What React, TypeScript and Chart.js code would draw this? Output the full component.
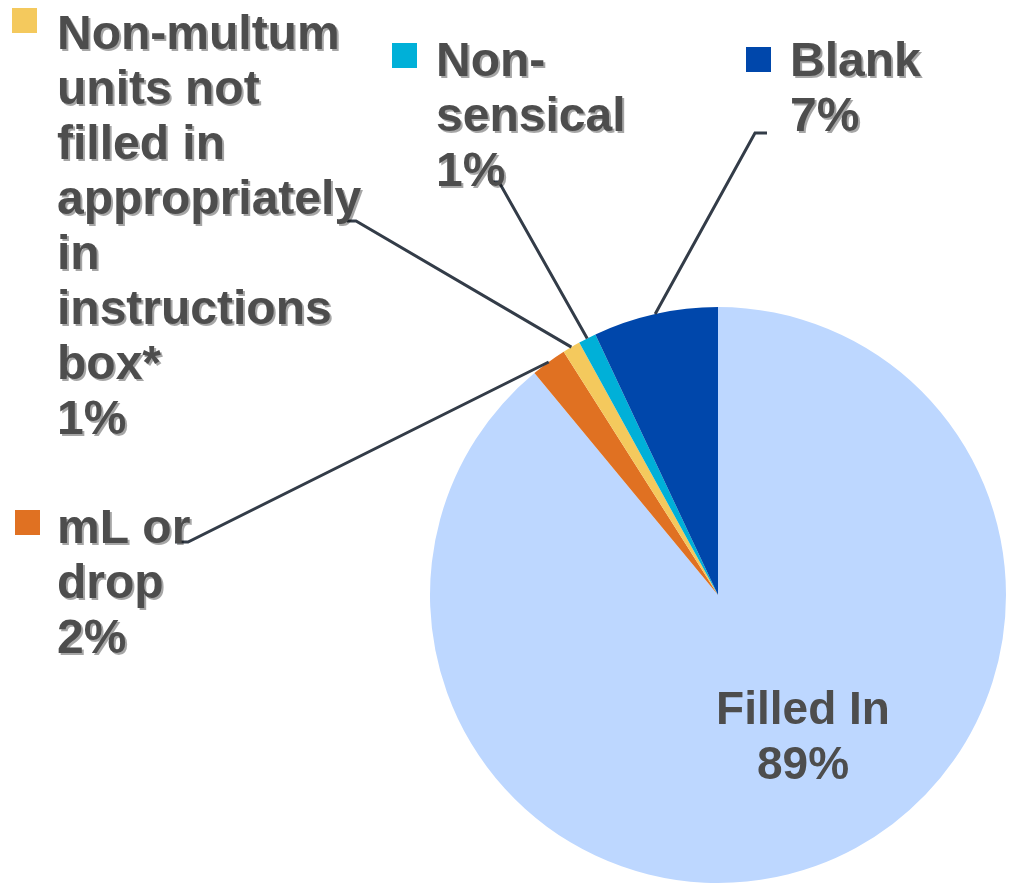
import React, { useEffect, useRef } from "react";
import { Chart, registerables } from "chart.js";

Chart.register(...registerables);

const categories = [
  "Filled In",
  "mL or drop",
  "Non-multum units not filled in appropriately in instructions box*",
  "Non-sensical",
  "Blank",
];
const values = [89, 2, 1, 1, 7];
const colors = ["#BDD7FF", "#E07122", "#F4C95D", "#00B0D8", "#0047AB"];
const labelLines = [
  ["Filled In"],
  ["mL or", "drop"],
  ["Non-multum", "units not", "filled in", "appropriately", "in", "instructions", "box*"],
  ["Non-", "sensical"],
  ["Blank"],
];

// label layout (positions only)
const labelLayout = [
  { inside: true, x: 803, y: 724 },
  { x: 57, y: 543, sq: [15, 510], stub: [175, 542, 188, 542] },
  { x: 57, y: 49, sq: [12, 8], stub: [347, 221, 356, 221] },
  { x: 436, y: 76, sq: [392, 43], stub: [490, 182, 499, 182] },
  { x: 790, y: 76, sq: [746, 47], stub: [767, 133, 755, 133] },
];

const FONT = '"Liberation Sans", Arial, sans-serif';
const LINE_H = 55;

const labelPlugin = {
  id: "pieLabels",
  afterDraw(chart: any) {
    const ctx = chart.ctx;
    const meta = chart.getDatasetMeta(0);
    const total = values.reduce((a, b) => a + b, 0);
    ctx.save();
    meta.data.forEach((arc: any, i: number) => {
      const lay = labelLayout[i];
      const lines = [...labelLines[i], Math.round((values[i] / total) * 100) + "%"];
      if (lay.inside) {
        ctx.font = `bold 46px ${FONT}`;
        ctx.fillStyle = "#4D4D4D";
        ctx.textAlign = "center";
        ctx.textBaseline = "alphabetic";
        lines.forEach((l, k) => ctx.fillText(l, lay.x, lay.y + k * LINE_H));
        return;
      }
      // leader line
      const mid = (arc.startAngle + arc.endAngle) / 2;
      const ex = arc.x + Math.cos(mid) * arc.outerRadius;
      const ey = arc.y + Math.sin(mid) * arc.outerRadius;
      const s = lay.stub!;
      ctx.strokeStyle = "#333C48";
      ctx.lineWidth = 3;
      ctx.beginPath();
      ctx.moveTo(s[0], s[1]);
      ctx.lineTo(s[2], s[3]);
      ctx.lineTo(ex, ey);
      ctx.stroke();
      // square marker
      ctx.fillStyle = colors[i];
      ctx.fillRect(lay.sq![0], lay.sq![1], 25, 25);
      // text with shadow
      ctx.font = `bold 48px ${FONT}`;
      ctx.textAlign = "left";
      ctx.textBaseline = "alphabetic";
      ctx.shadowColor = "rgba(0,0,0,0.35)";
      ctx.shadowOffsetX = 2;
      ctx.shadowOffsetY = 2;
      ctx.shadowBlur = 0;
      ctx.fillStyle = "#4D4D4D";
      lines.forEach((l, k) => ctx.fillText(l, lay.x, lay.y + k * LINE_H));
      ctx.shadowColor = "transparent";
    });
    ctx.restore();
  },
};

export default function App() {
  const ref = useRef<HTMLCanvasElement>(null);
  useEffect(() => {
    const chart = new Chart(ref.current!, {
      type: "pie",
      data: {
        labels: categories,
        datasets: [
          {
            data: values,
            backgroundColor: colors,
            borderWidth: 0,
          },
        ],
      },
      options: {
        animation: false,
        responsive: false,
        maintainAspectRatio: false,
        layout: { padding: { left: 430, right: 6, top: 307, bottom: 7 } },
        plugins: {
          legend: { display: false },
          tooltip: { enabled: false },
        },
      },
      plugins: [labelPlugin],
    });
    return () => chart.destroy();
  }, []);
  return (
    <div style={{ position: "fixed", left: 0, top: 0, width: 1012, height: 890, background: "#fff" }}>
      <canvas ref={ref} width={1012} height={890} />
    </div>
  );
}
